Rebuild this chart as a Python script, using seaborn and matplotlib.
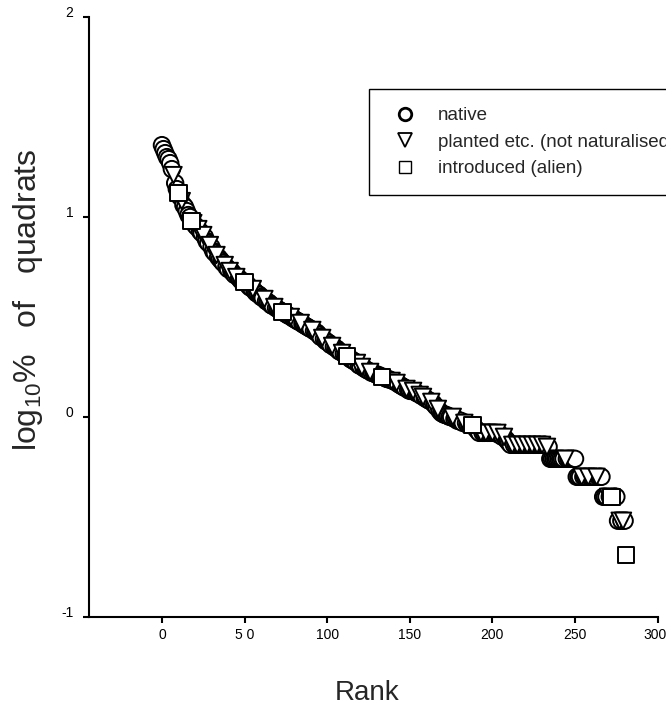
import matplotlib
matplotlib.use("Agg")
import matplotlib.pyplot as plt
from matplotlib.lines import Line2D
from matplotlib.transforms import ScaledTranslation
import seaborn as sns
from pandas import DataFrame

# log10 % of quadrats, species in rank order (rank 0 .. 281)
log_pct = [
    1.36, 1.34, 1.32, 1.30, 1.29, 1.27, 1.24, 1.21, 1.17, 1.14,
    1.12, 1.10, 1.08, 1.06, 1.05, 1.03, 1.01, 1.00, 0.98, 0.97,
    0.96, 0.95, 0.94, 0.93, 0.92, 0.91, 0.90, 0.88, 0.87, 0.86,
    0.85, 0.83, 0.82, 0.81, 0.80, 0.79, 0.78, 0.77, 0.76, 0.75,
    0.74, 0.73, 0.73, 0.72, 0.71, 0.70, 0.70, 0.69, 0.68, 0.68,
    0.675, 0.67, 0.66, 0.65, 0.645, 0.64, 0.63, 0.62, 0.615, 0.61,
    0.60, 0.595, 0.59, 0.58, 0.575, 0.57, 0.56, 0.555, 0.55, 0.545,
    0.54, 0.535, 0.53, 0.525, 0.52, 0.515, 0.51, 0.505, 0.50, 0.495,
    0.49, 0.485, 0.48, 0.475, 0.47, 0.465, 0.46, 0.455, 0.45, 0.445,
    0.44, 0.435, 0.43, 0.425, 0.42, 0.41, 0.40, 0.395, 0.39, 0.38,
    0.375, 0.37, 0.36, 0.355, 0.35, 0.345, 0.34, 0.33, 0.325, 0.32,
    0.315, 0.31, 0.305, 0.30, 0.29, 0.285, 0.28, 0.275, 0.27, 0.26,
    0.255, 0.25, 0.245, 0.24, 0.235, 0.23, 0.225, 0.22, 0.22, 0.215,
    0.21, 0.21, 0.205, 0.20, 0.20, 0.195, 0.19, 0.19, 0.185, 0.18,
    0.18, 0.175, 0.17, 0.165, 0.16, 0.155, 0.15, 0.145, 0.14, 0.135,
    0.13, 0.13, 0.13, 0.125, 0.12, 0.115, 0.11, 0.105, 0.10, 0.095,
    0.09, 0.085, 0.08, 0.075, 0.07, 0.06, 0.05, 0.04, 0.03, 0.02,
    0.015, 0.01, 0.01, 0.005, 0.0, 0.0, 0.0, -0.01, -0.01, -0.02,
    -0.02, -0.02, -0.03, -0.03, -0.03, -0.04, -0.04, -0.04, -0.04, -0.05,
    -0.06, -0.07, -0.08, -0.08, -0.08, -0.08, -0.08, -0.08, -0.08, -0.08,
    -0.08, -0.08, -0.08, -0.08, -0.09, -0.09, -0.10, -0.10, -0.11, -0.12,
    -0.13, -0.14, -0.14, -0.14, -0.14, -0.14, -0.14, -0.14, -0.14, -0.14,
    -0.14, -0.14, -0.14, -0.14, -0.14, -0.14, -0.14, -0.14, -0.14, -0.14,
    -0.14, -0.14, -0.14, -0.15, -0.15, -0.21, -0.21, -0.21, -0.21, -0.21,
    -0.21, -0.21, -0.21, -0.21, -0.21, -0.21, -0.21, -0.21, -0.21, -0.21,
    -0.21, -0.30, -0.30, -0.30, -0.30, -0.30, -0.30, -0.30, -0.30, -0.30,
    -0.30, -0.30, -0.30, -0.30, -0.30, -0.30, -0.30, -0.40, -0.40, -0.40,
    -0.40, -0.40, -0.40, -0.40, -0.40, -0.40, -0.52, -0.52, -0.52, -0.52,
    -0.52, -0.69,
]
planted_ranks = [7, 12, 19, 22, 25, 29, 33, 38, 41, 45, 55, 62, 68, 78, 84,
                 91, 97, 103, 109, 118, 121, 126, 139, 142, 148, 152, 156,
                 158, 163, 167, 176, 183, 193, 196, 200, 203, 207, 212, 215,
                 218, 221, 224, 227, 230, 233, 244, 254, 258, 263, 270, 277,
                 279]
introduced_ranks = [10, 18, 50, 73, 112, 133, 188, 272, 281]
origin_names = ["native", "planted etc. (not naturalised)", "introduced (alien)"]
origin_markers = ["o", "v", "s"]

x_ticks = [0, 50, 100, 150, 200, 250, 300]
x_labels = ["0", "5 0", "100", "150", "200", "250", "300"]
y_ticks = [-1, 0, 1, 2]

origin = []
for r in range(len(log_pct)):
    if r in introduced_ranks:
        origin.append(origin_names[2])
    elif r in planted_ranks:
        origin.append(origin_names[1])
    else:
        origin.append(origin_names[0])
df = DataFrame({"rank": range(len(log_pct)), "log_pct": log_pct, "origin": origin})
# natives underneath, then planted, then introduced on top
df["order"] = df["origin"].map({n: i for i, n in enumerate(origin_names)})
df = df.sort_values(["order", "rank"], kind="stable")

sns.set_style("ticks")
plt.rcParams["font.family"] = ["Liberation Sans", "DejaVu Sans"]
plt.rcParams["mathtext.default"] = "regular"

fig = plt.figure(figsize=(6.66, 7.08), dpi=100)
ax = fig.add_axes([0.134, 0.129, 0.8535, 0.8466])

sns.scatterplot(data=df, x="rank", y="log_pct", style="origin",
                style_order=origin_names,
                markers=dict(zip(origin_names, origin_markers)),
                s=140, color="white", edgecolor="black", linewidth=1.4,
                legend=False, ax=ax, clip_on=False)

ax.set_xlim(-44, 300)
ax.set_ylim(-1, 2)
ax.set_xticks(x_ticks, x_labels)
ax.set_yticks(y_ticks, [str(v) for v in y_ticks])
ax.set(xlabel="", ylabel="")
for s in ["top", "right"]:
    ax.spines[s].set_visible(False)
for s in ["left", "bottom"]:
    ax.spines[s].set_linewidth(1.5)
    ax.spines[s].set_color("black")
ax.tick_params(axis="both", direction="out", length=4.5, width=1.5,
               color="black", labelsize=10, labelcolor="black")
ax.tick_params(axis="y", pad=7)
ax.tick_params(axis="x", pad=3.5)
for lab in ax.get_yticklabels():
    lab.set_va("baseline")
# last x label sits right on the figure edge, nudge it in a little
last = ax.xaxis.get_major_ticks()[-1].label1
last.set_transform(last.get_transform() + ScaledTranslation(-3 / 100, 0, fig.dpi_scale_trans))

fig.text(28 / 666, 1 - 300 / 708, "log$_{10}$%   of   quadrats", rotation=90,
         ha="center", va="center", fontsize=23)
fig.text(367 / 666, 1 - 700 / 708, "Rank", ha="center", va="baseline",
         fontsize=20)

handles = [
    Line2D([], [], marker="o", ls="none", mfc="white", mec="black", ms=9, mew=2.0),
    Line2D([], [], marker="v", ls="none", mfc="white", mec="black", ms=9.5, mew=1.3),
    Line2D([], [], marker="s", ls="none", mfc="white", mec="black", ms=9, mew=1.0),
]
leg = ax.legend(handles, origin_names, loc="upper left",
                bbox_to_anchor=(0.492, 0.880), borderaxespad=0,
                frameon=True, fancybox=False, framealpha=1, edgecolor="black",
                fontsize=13.5, borderpad=0.95, handlelength=1.94,
                handletextpad=0.79, labelspacing=0.5)
leg.get_frame().set_linewidth(1.0)

fig.savefig("out.png", dpi=100)
